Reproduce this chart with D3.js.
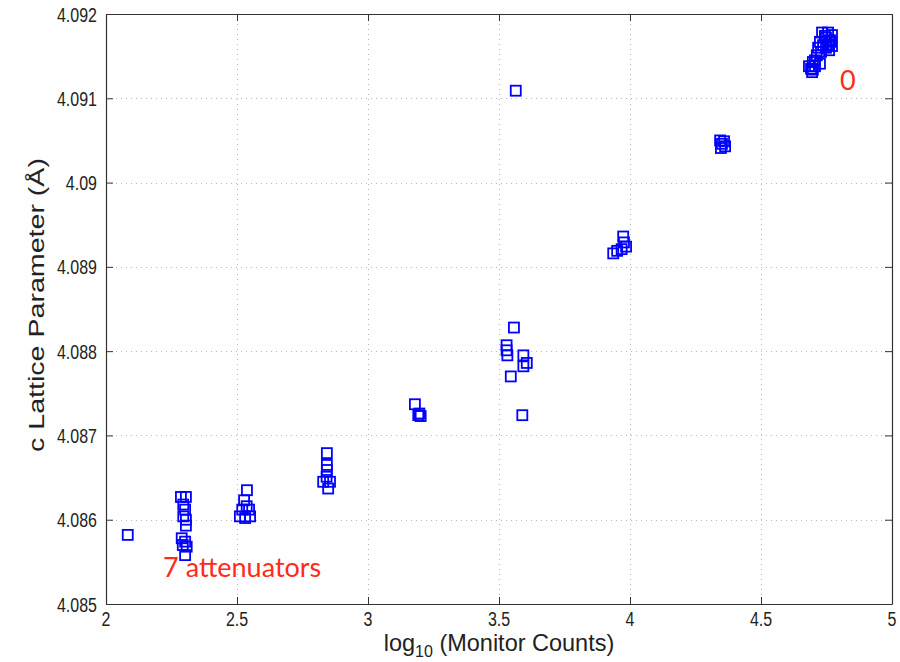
<!DOCTYPE html>
<html>
<head>
<meta charset="utf-8">
<script src="https://cdn.jsdelivr.net/npm/d3@7"></script>
<style>
  body { margin: 0; background: #fff; }
  svg { display: block; }
</style>
</head>
<body>
<div id="chart"></div>
<script>
// log10 of monitor counts, one entry per measurement
var logCounts = [
    2.083,
    2.286, 2.305, 2.295, 2.302, 2.295, 2.305, 2.305, 2.289, 2.302, 2.293, 2.308, 2.302,
    2.538, 2.527, 2.537, 2.520, 2.546, 2.511, 2.531, 2.550,
    2.843, 2.843, 2.843, 2.842, 2.829, 2.855, 2.848,
    3.179, 3.196, 3.201, 3.192,
    3.564, 3.557, 3.529, 3.529, 3.532, 3.593, 3.606, 3.593, 3.545, 3.589,
    3.974, 3.977, 3.985, 3.968, 3.951, 3.936,
    4.344, 4.359, 4.351, 4.363, 4.347,
    4.733, 4.756, 4.771, 4.748, 4.763, 4.725, 4.756, 4.718, 4.748, 4.771,
    4.744, 4.767, 4.737, 4.760, 4.729,
    4.713, 4.698, 4.683, 4.706, 4.691, 4.698, 4.706, 4.725, 4.695
];

// refined c lattice parameter (Å) for the same measurements
var cParam = [
    4.08582,
    4.08627, 4.08627, 4.08618, 4.08612, 4.08604, 4.08600, 4.08593, 4.08578, 4.08574, 4.08570, 4.08568, 4.08558,
    4.08635, 4.08623, 4.08616, 4.08612, 4.08612, 4.08604, 4.08602, 4.08604,
    4.08679, 4.08665, 4.08659, 4.08651, 4.08645, 4.08645, 4.08637,
    4.08737, 4.08726, 4.08723, 4.08724,
    4.09109, 4.08828, 4.08807, 4.08801, 4.08795, 4.08795, 4.08786, 4.08782, 4.08770, 4.08724,
    4.08936, 4.08929, 4.08924, 4.08921, 4.08919, 4.08916,
    4.09050, 4.09049, 4.09046, 4.09043, 4.09041,
    4.09178, 4.09178, 4.09175, 4.09172, 4.09169, 4.09167, 4.09164, 4.09160, 4.09160, 4.09162,
    4.09174, 4.09167, 4.09163, 4.09157, 4.09155,
    4.09151, 4.09143, 4.09138, 4.09138, 4.09135, 4.09134, 4.09145, 4.09141, 4.09131
];

var xTicks = [2, 2.5, 3, 3.5, 4, 4.5, 5];
var yTicks = [4.085, 4.086, 4.087, 4.088, 4.089, 4.09, 4.091, 4.092];

// annotations in data coordinates (text start, baseline)
var notes = [
    { text: "7 attenuators", x: 2.218, y: 4.08532 },
    { text: "0", x: 4.802, y: 4.09110 }
];

var cfg = { w: 900, h: 662, left: 106, right: 892, top: 14, bottom: 604 };
// the exported figure is stretched vertically, so its text is too
var stretch = 1.3;

var svg = d3.select("#chart")
    .append("svg")
    .attr("width", cfg.w)
    .attr("height", cfg.h);

var x = d3.scaleLinear().domain([2, 5]).range([cfg.left, cfg.right]);
var y = d3.scaleLinear().domain([4.085, 4.092]).range([cfg.bottom, cfg.top]);

var fmt = function(d) { return String(+d.toFixed(3)); };

// dotted grid
var grid = svg.append("g").attr("class", "grid")
    .attr("stroke", "#b8b8b8")
    .attr("stroke-width", 1)
    .attr("stroke-dasharray", "1,4");
grid.selectAll(".gx")
    .data(xTicks.slice(1, -1))
    .enter().append("line")
    .attr("x1", function(d) { return Math.round(x(d)) + 0.5; })
    .attr("x2", function(d) { return Math.round(x(d)) + 0.5; })
    .attr("y1", cfg.top)
    .attr("y2", cfg.bottom);
grid.selectAll(".gy")
    .data(yTicks.slice(1, -1))
    .enter().append("line")
    .attr("y1", function(d) { return Math.round(y(d)) + 0.5; })
    .attr("y2", function(d) { return Math.round(y(d)) + 0.5; })
    .attr("x1", cfg.left)
    .attr("x2", cfg.right);

// axes with inward ticks on all four sides, labels drawn separately
var tickLen = 7;
var axisFont = "Liberation Sans, Arial, sans-serif";

var gBottom = svg.append("g")
    .attr("transform", "translate(0," + cfg.bottom + ")")
    .call(d3.axisBottom(x).tickValues(xTicks).tickFormat("").tickSizeInner(-tickLen).tickSizeOuter(0));
var gLeft = svg.append("g")
    .attr("transform", "translate(" + cfg.left + ",0)")
    .call(d3.axisLeft(y).tickValues(yTicks).tickFormat("").tickSizeInner(-tickLen).tickSizeOuter(0));
var gTop = svg.append("g")
    .attr("transform", "translate(0," + cfg.top + ")")
    .call(d3.axisTop(x).tickValues(xTicks).tickFormat("").tickSizeInner(-tickLen).tickSizeOuter(0));
var gRight = svg.append("g")
    .attr("transform", "translate(" + cfg.right + ",0)")
    .call(d3.axisRight(y).tickValues(yTicks).tickFormat("").tickSizeInner(-tickLen).tickSizeOuter(0));

[gBottom, gLeft, gTop, gRight].forEach(function(g) {
    g.selectAll(".domain").attr("stroke", "#333").attr("stroke-width", 1.2);
    g.selectAll(".tick line").attr("stroke", "#333");
});

svg.append("g")
    .selectAll("text")
    .data(xTicks)
    .enter().append("text")
    .attr("transform", function(d) { return "translate(" + x(d) + ",626) scale(1," + stretch + ")"; })
    .attr("text-anchor", "middle")
    .attr("fill", "#222")
    .style("font-family", axisFont)
    .style("font-size", "16px")
    .text(fmt);

svg.append("g")
    .selectAll("text")
    .data(yTicks)
    .enter().append("text")
    .attr("transform", function(d) { return "translate(97," + (y(d) + 7.5) + ") scale(1," + stretch + ")"; })
    .attr("text-anchor", "end")
    .attr("fill", "#222")
    .style("font-family", axisFont)
    .style("font-size", "16px")
    .text(fmt);

// markers
svg.append("g")
    .selectAll("rect")
    .data(d3.range(logCounts.length))
    .enter().append("rect")
    .attr("x", function(i) { return x(logCounts[i]) - 5; })
    .attr("y", function(i) { return y(cParam[i]) - 5; })
    .attr("width", 10)
    .attr("height", 10)
    .attr("fill", "none")
    .attr("stroke", "#0000ff")
    .attr("stroke-width", 1.8);

// axis titles
var xTitle = svg.append("text")
    .attr("transform", "translate(" + ((cfg.left + cfg.right) / 2) + ",651) scale(1,1.05)")
    .attr("text-anchor", "middle")
    .attr("fill", "#222")
    .style("font-family", axisFont)
    .style("font-size", "23.5px");
xTitle.append("tspan").text("log");
xTitle.append("tspan").attr("dy", 6).style("font-size", "16px").text("10");
xTitle.append("tspan").attr("dy", -6).text(" (Monitor Counts)");

svg.append("text")
    .attr("transform", "translate(44,305) scale(1," + stretch + ") rotate(-90)")
    .attr("text-anchor", "middle")
    .attr("fill", "#222")
    .style("font-family", axisFont)
    .style("font-size", "22px")
    .text("c Lattice Parameter (Å)");

// red annotations
svg.append("g")
    .selectAll("text")
    .data(notes)
    .enter().append("text")
    .attr("x", function(d) { return x(d.x); })
    .attr("y", function(d) { return y(d.y); })
    .attr("fill", "#ff2a1a")
    .style("font-family", "Lato, 'Open Sans', sans-serif")
    .style("font-size", "27px")
    .text(function(d) { return d.text; });
</script>
</body>
</html>
